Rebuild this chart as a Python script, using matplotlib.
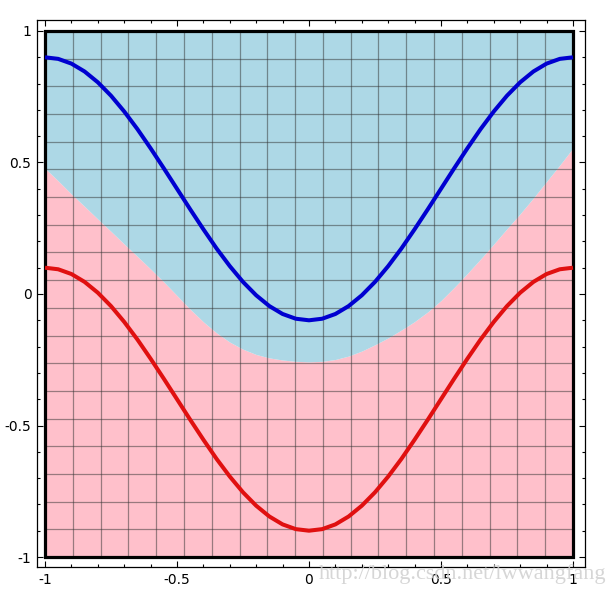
import matplotlib
matplotlib.use("Agg")
import matplotlib.pyplot as plt
import numpy as np
from matplotlib.patches import Rectangle
from matplotlib.ticker import FixedLocator, FixedFormatter

plt.rcParams['axes.unicode_minus'] = False
plt.rcParams['font.family'] = ['DejaVu Sans']

# ---- data ----
curve_x = [-1.0, -0.95, -0.9, -0.85, -0.8, -0.75, -0.7, -0.65, -0.6, -0.55, -0.5,
           -0.45, -0.4, -0.35, -0.3, -0.25, -0.2, -0.15, -0.1, -0.05, 0.0,
           0.05, 0.1, 0.15, 0.2, 0.25, 0.3, 0.35, 0.4, 0.45, 0.5,
           0.55, 0.6, 0.65, 0.7, 0.75, 0.8, 0.85, 0.9, 0.95, 1.0]
blue_y = [0.9, 0.894, 0.876, 0.846, 0.805, 0.754, 0.694, 0.627, 0.554, 0.478, 0.4,
          0.322, 0.246, 0.173, 0.106, 0.046, -0.005, -0.046, -0.076, -0.094, -0.1,
          -0.094, -0.076, -0.046, -0.005, 0.046, 0.106, 0.173, 0.246, 0.322, 0.4,
          0.478, 0.554, 0.627, 0.694, 0.754, 0.805, 0.846, 0.876, 0.894, 0.9]
red_y = [0.1, 0.094, 0.076, 0.046, 0.005, -0.046, -0.106, -0.173, -0.246, -0.322, -0.4,
         -0.478, -0.554, -0.627, -0.694, -0.754, -0.805, -0.846, -0.876, -0.894, -0.9,
         -0.894, -0.876, -0.846, -0.805, -0.754, -0.694, -0.627, -0.554, -0.478, -0.4,
         -0.322, -0.246, -0.173, -0.106, -0.046, 0.005, 0.046, 0.076, 0.094, 0.1]
boundary_y = [0.478, 0.43, 0.38, 0.333, 0.285, 0.238, 0.19, 0.143, 0.095, 0.046, -0.006,
              -0.058, -0.106, -0.148, -0.183, -0.210, -0.230, -0.243, -0.251, -0.256, -0.258,
              -0.256, -0.249, -0.236, -0.217, -0.193, -0.167, -0.137, -0.105, -0.068, -0.025,
              0.025, 0.078, 0.133, 0.19, 0.248, 0.305, 0.365, 0.428, 0.49, 0.555]

x_lo, x_hi = -1.0, 1.0
y_lo, y_hi = -1.0, 1.0
major_ticks = [-1.0, -0.5, 0.0, 0.5, 1.0]
major_labels = ["-1", "-0.5", "0", "0.5", "1"]
minor_ticks = [round(-1.0 + 0.1 * i, 1) for i in range(21)]
grid_cells = 19

# ---- figure ----
fig = plt.figure(figsize=(6.16, 5.93), dpi=100)
ax = fig.add_axes([37 / 616, 1 - 567 / 593, (585 - 37) / 616, (567 - 20) / 593])
ax.set_xlim(-1.0303, 1.0455)
ax.set_ylim(-1.038, 1.0418)

ax.fill_between(curve_x, y_lo, boundary_y, color='#ffc0cb', lw=0, zorder=1)
ax.fill_between(curve_x, boundary_y, y_hi, color='#add8e6', lw=0, zorder=1)

gx = np.linspace(x_lo, x_hi, grid_cells + 1)
gy = np.linspace(y_lo, y_hi, grid_cells + 1)
for g in gx:
    ax.plot([g, g], [y_lo, y_hi], color='#333333', alpha=0.5, lw=0.9, zorder=2)
for g in gy:
    ax.plot([x_lo, x_hi], [g, g], color='#333333', alpha=0.5, lw=0.9, zorder=2)

ax.add_patch(Rectangle((x_lo, y_lo), x_hi - x_lo, y_hi - y_lo, fill=False,
                       edgecolor='black', lw=2.3, zorder=3))

ax.plot(curve_x, blue_y, color='#0000d0', lw=2.9, zorder=4, solid_capstyle='butt')
ax.plot(curve_x, red_y, color='#e01010', lw=2.9, zorder=4, solid_capstyle='butt')

ax.xaxis.set_major_locator(FixedLocator(major_ticks))
ax.xaxis.set_major_formatter(FixedFormatter(major_labels))
ax.yaxis.set_major_locator(FixedLocator(major_ticks))
ax.yaxis.set_major_formatter(FixedFormatter(major_labels))
ax.xaxis.set_minor_locator(FixedLocator(minor_ticks))
ax.yaxis.set_minor_locator(FixedLocator(minor_ticks))
ax.tick_params(which='both', direction='in', top=True, right=True,
               labeltop=False, labelright=False, width=0.8, colors='black',
               labelsize=10)
ax.tick_params(which='major', length=4.5, pad=4)
ax.tick_params(which='minor', length=2.5)
for s in ax.spines.values():
    s.set_linewidth(0.9)

fig.text(0.985, 0.032, "http://blog.csdn.net/lwwangfang", ha='right', va='center',
         fontsize=16, color='#cfcfcf', family=['Liberation Serif'], alpha=0.85,
         zorder=0)

fig.savefig("out.png", dpi=100)
